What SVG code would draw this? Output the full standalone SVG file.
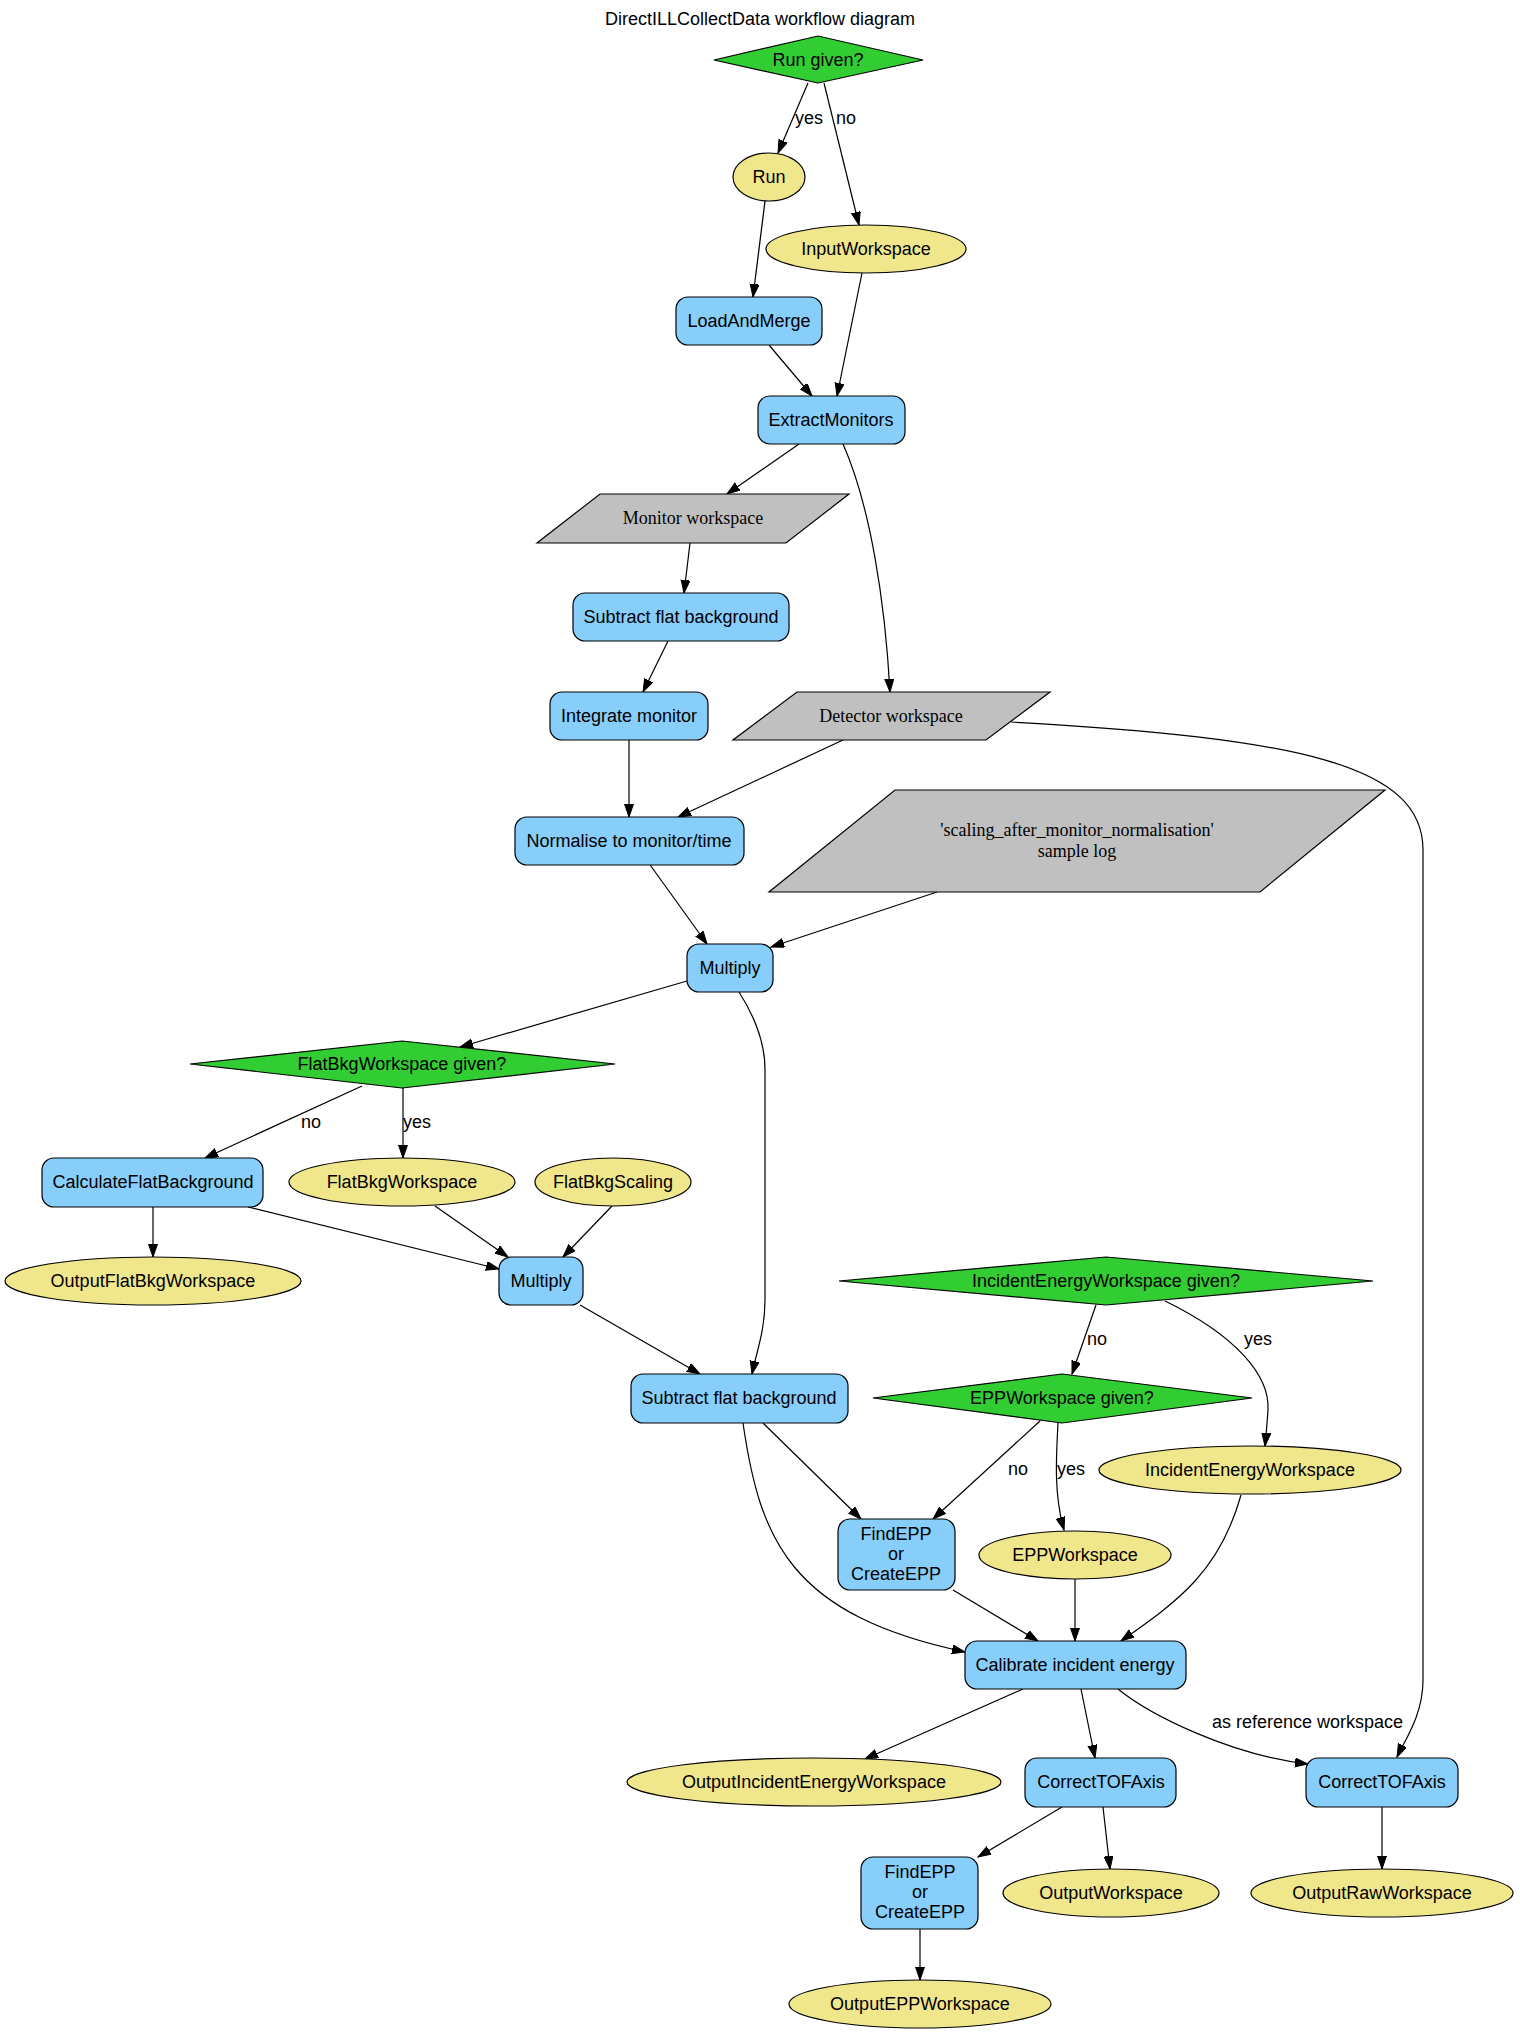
<svg xmlns="http://www.w3.org/2000/svg" width="1520" height="2033" viewBox="0 0 1520 2033">
<defs>
<marker id="arr" markerUnits="userSpaceOnUse" markerWidth="14" markerHeight="10" refX="13" refY="4.5" orient="auto">
<path d="M0,0 L13,4.5 L0,9 z" fill="#000" stroke="#000" stroke-width="1"/>
</marker>
</defs>
<style>
.t{font-family:"Liberation Sans",Arial,sans-serif;font-size:18px;fill:#000;text-anchor:middle}
.s{font-family:"Liberation Serif","Times New Roman",serif;font-size:18px;fill:#000;text-anchor:middle}
.l{font-family:"Liberation Sans",Arial,sans-serif;font-size:18px;fill:#000;text-anchor:start}
.box{fill:#87CEFA;stroke:#000;stroke-width:1.2}
.ell{fill:#F0E68C;stroke:#000;stroke-width:1.2}
.dia{fill:#32CD32;stroke:#000;stroke-width:1.2}
.par{fill:#C0C0C0;stroke:#000;stroke-width:1.2}
.e{fill:none;stroke:#000;stroke-width:1.2;marker-end:url(#arr)}
</style>
<rect width="1520" height="2033" fill="#fff"/>
<text class="t" x="760" y="25">DirectILLCollectData workflow diagram</text>

<g id="connectors">
<path class="e" d="M808,83 L778,153"/>
<path class="e" d="M824,83 L859,225"/>
<path class="e" d="M765,201 L753,297"/>
<path class="e" d="M862,273 L837,396"/>
<path class="e" d="M769,345 L812,396"/>
<path class="e" d="M799,444 L727,494"/>
<path class="e" d="M843,444 C870,505 885,600 890,692"/>
<path class="e" d="M690,543 L684,593"/>
<path class="e" d="M668,641 L643,692"/>
<path class="e" d="M629,740 L629,817"/>
<path class="e" d="M843,740 L678,817"/>
<path class="e" d="M1011,722 C1300,738 1423,765 1423,850 L1423,1680 C1423,1715 1405,1740 1397,1757"/>
<path class="e" d="M648,862 L707,944"/>
<path class="e" d="M937,892 L771,947"/>
<path class="e" d="M687,981 L460,1047"/>
<path class="e" d="M739,992 C757,1020 765,1045 765,1070 L765,1300 C765,1330 757,1350 752,1374"/>
<path class="e" d="M362,1086 L205,1158"/>
<path class="e" d="M403,1088 L403,1158"/>
<path class="e" d="M153,1207 L153,1257"/>
<path class="e" d="M248,1207 L499,1269"/>
<path class="e" d="M435,1206 L508,1257"/>
<path class="e" d="M612,1206 L563,1257"/>
<path class="e" d="M580,1305 L700,1374"/>
<path class="e" d="M1096,1305 L1072,1374"/>
<path class="e" d="M1165,1301 C1235,1335 1270,1375 1268,1410 C1267,1425 1266,1436 1265,1446"/>
<path class="e" d="M1040,1421 L933,1519"/>
<path class="e" d="M1058,1423 C1056,1460 1054,1495 1064,1530"/>
<path class="e" d="M763,1423 L861,1519"/>
<path class="e" d="M743,1423 C760,1540 790,1615 965,1652"/>
<path class="e" d="M953,1590 L1038,1641"/>
<path class="e" d="M1075,1578 L1075,1641"/>
<path class="e" d="M1241,1495 C1220,1570 1180,1600 1121,1641"/>
<path class="e" d="M1023,1689 L865,1759"/>
<path class="e" d="M1081,1689 L1095,1758"/>
<path class="e" d="M1118,1689 C1150,1715 1230,1755 1308,1764"/>
<path class="e" d="M1062,1807 L978,1857"/>
<path class="e" d="M1103,1807 L1110,1869"/>
<path class="e" d="M1382,1807 L1382,1869"/>
<path class="e" d="M920,1929 L920,1980"/>
<text class="l" x="795" y="124">yes</text>
<text class="l" x="836" y="124">no</text>
<text class="l" x="301" y="1128">no</text>
<text class="l" x="403" y="1128">yes</text>
<text class="l" x="1087" y="1345">no</text>
<text class="l" x="1244" y="1345">yes</text>
<text class="l" x="1008" y="1475">no</text>
<text class="l" x="1057" y="1475">yes</text>
<text class="l" x="1212" y="1728">as reference workspace</text>
</g>

<g id="run_given"><polygon class="dia" points="714,60 818,36 923,60 818,83"/><text class="t" x="818" y="66">Run given?</text></g>
<g id="run"><ellipse class="ell" cx="769" cy="177" rx="36" ry="24"/><text class="t" x="769" y="183">Run</text></g>
<g id="input_ws"><ellipse class="ell" cx="866" cy="249" rx="100" ry="24"/><text class="t" x="866" y="255">InputWorkspace</text></g>
<g id="load_merge"><rect class="box" x="676" y="297" width="146" height="48" rx="12"/><text class="t" x="749" y="327">LoadAndMerge</text></g>
<g id="extract_monitors"><rect class="box" x="758" y="396" width="147" height="48" rx="12"/><text class="t" x="831" y="426">ExtractMonitors</text></g>
<g id="monitor_ws"><polygon class="par" points="600,494 849,494 786,543 537,543"/><text class="s" x="693" y="524">Monitor workspace</text></g>
<g id="subtract_mon"><rect class="box" x="573" y="593" width="216" height="48" rx="12"/><text class="t" x="681" y="623">Subtract flat background</text></g>
<g id="integrate"><rect class="box" x="550" y="692" width="158" height="48" rx="12"/><text class="t" x="629" y="722">Integrate monitor</text></g>
<g id="detector_ws"><polygon class="par" points="797,692 1050,692 986,740 733,740"/><text class="s" x="891" y="722">Detector workspace</text></g>
<g id="normalise"><rect class="box" x="515" y="817" width="229" height="48" rx="12"/><text class="t" x="629" y="847">Normalise to monitor/time</text></g>
<g id="scaling_log"><polygon class="par" points="895,790 1385,790 1260,892 769,892"/><text class="s" x="1077" y="836">'scaling_after_monitor_normalisation'</text><text class="s" x="1077" y="857">sample log</text></g>
<g id="multiply1"><rect class="box" x="687" y="944" width="86" height="48" rx="12"/><text class="t" x="730" y="974">Multiply</text></g>
<g id="flatbkg_given"><polygon class="dia" points="190,1064 402,1041 615,1064 402,1088"/><text class="t" x="402" y="1070">FlatBkgWorkspace given?</text></g>
<g id="calc_flat"><rect class="box" x="42" y="1158" width="221" height="49" rx="12"/><text class="t" x="153" y="1188">CalculateFlatBackground</text></g>
<g id="flatbkg_ws"><ellipse class="ell" cx="402" cy="1182" rx="113" ry="24"/><text class="t" x="402" y="1188">FlatBkgWorkspace</text></g>
<g id="flatbkg_scaling"><ellipse class="ell" cx="613" cy="1182" rx="78" ry="24"/><text class="t" x="613" y="1188">FlatBkgScaling</text></g>
<g id="output_flat"><ellipse class="ell" cx="153" cy="1281" rx="148" ry="24"/><text class="t" x="153" y="1287">OutputFlatBkgWorkspace</text></g>
<g id="multiply2"><rect class="box" x="499" y="1257" width="84" height="48" rx="12"/><text class="t" x="541" y="1287">Multiply</text></g>
<g id="subtract_det"><rect class="box" x="631" y="1374" width="217" height="49" rx="12"/><text class="t" x="739" y="1404">Subtract flat background</text></g>
<g id="ie_given"><polygon class="dia" points="839,1281 1106,1257 1373,1281 1106,1305"/><text class="t" x="1106" y="1287">IncidentEnergyWorkspace given?</text></g>
<g id="epp_given"><polygon class="dia" points="873,1398 1062,1374 1252,1398 1062,1423"/><text class="t" x="1062" y="1404">EPPWorkspace given?</text></g>
<g id="ie_ws"><ellipse class="ell" cx="1250" cy="1470" rx="151" ry="24"/><text class="t" x="1250" y="1476">IncidentEnergyWorkspace</text></g>
<g id="findepp1"><rect class="box" x="838" y="1519" width="117" height="71" rx="12"/><text class="t" x="896" y="1540">FindEPP</text><text class="t" x="896" y="1560">or</text><text class="t" x="896" y="1580">CreateEPP</text></g>
<g id="epp_ws"><ellipse class="ell" cx="1075" cy="1555" rx="96" ry="24"/><text class="t" x="1075" y="1561">EPPWorkspace</text></g>
<g id="calibrate"><rect class="box" x="965" y="1641" width="221" height="48" rx="12"/><text class="t" x="1075" y="1671">Calibrate incident energy</text></g>
<g id="output_ie"><ellipse class="ell" cx="814" cy="1782" rx="187" ry="24"/><text class="t" x="814" y="1788">OutputIncidentEnergyWorkspace</text></g>
<g id="ctof1"><rect class="box" x="1025" y="1758" width="151" height="49" rx="12"/><text class="t" x="1101" y="1788">CorrectTOFAxis</text></g>
<g id="ctof2"><rect class="box" x="1306" y="1758" width="152" height="49" rx="12"/><text class="t" x="1382" y="1788">CorrectTOFAxis</text></g>
<g id="findepp2"><rect class="box" x="861" y="1857" width="117" height="72" rx="12"/><text class="t" x="920" y="1878">FindEPP</text><text class="t" x="920" y="1898">or</text><text class="t" x="920" y="1918">CreateEPP</text></g>
<g id="output_ws"><ellipse class="ell" cx="1111" cy="1893" rx="108" ry="24"/><text class="t" x="1111" y="1899">OutputWorkspace</text></g>
<g id="output_raw"><ellipse class="ell" cx="1382" cy="1893" rx="131" ry="24"/><text class="t" x="1382" y="1899">OutputRawWorkspace</text></g>
<g id="output_epp"><ellipse class="ell" cx="920" cy="2004" rx="131" ry="24"/><text class="t" x="920" y="2010">OutputEPPWorkspace</text></g>
</svg>
